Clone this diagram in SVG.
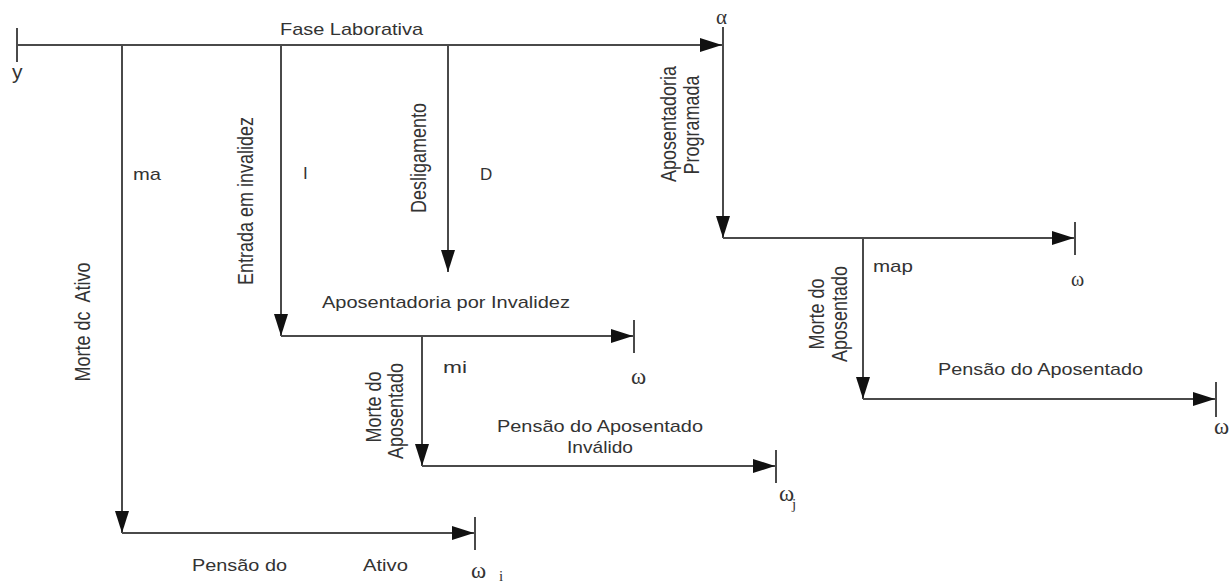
<svg xmlns="http://www.w3.org/2000/svg" width="1232" height="583" viewBox="0 0 1232 583">
<style>
.ln{stroke:#4a4a4a;stroke-width:2;fill:none}
.ar{marker-end:url(#ah)}
.t{font-family:"Liberation Sans",Arial,sans-serif;font-size:17px;fill:#333}
.r{font-family:"Liberation Sans",Arial,sans-serif;font-size:18px;fill:#333;text-anchor:middle;white-space:pre}
.w{font-family:"Liberation Serif","Times New Roman",serif;font-size:23px;fill:#333}
.s{font-family:"Liberation Serif","Times New Roman",serif;font-size:15px;fill:#333}
</style>
<defs>
<marker id="ah" viewBox="0 0 22 14" refX="22" refY="7" markerWidth="22" markerHeight="14" markerUnits="userSpaceOnUse" orient="auto">
<path d="M0,0 L22,7 L0,14 z" fill="#111"/>
</marker>
</defs>
<rect width="1232" height="583" fill="#fff"/>
<g id="connectors">
<path class="ln ar" d="M17,45 H722"/>
<path class="ln" d="M17,28 V62"/>
<path class="ln" d="M723,27 V45"/>
<path class="ln ar" d="M723,45 V238"/>
<path class="ln ar" d="M122,45 V533"/>
<path class="ln ar" d="M281,45 V336"/>
<path class="ln ar" d="M448,45 V272"/>
<path class="ln ar" d="M723,238 H1074"/>
<path class="ln" d="M1075,222 V255"/>
<path class="ln ar" d="M863,238 V399"/>
<path class="ln ar" d="M863,399 H1215"/>
<path class="ln" d="M1216,382 V417"/>
<path class="ln ar" d="M281,336 H633"/>
<path class="ln" d="M634,320 V353"/>
<path class="ln ar" d="M422,336 V466"/>
<path class="ln ar" d="M422,466 H775"/>
<path class="ln" d="M776,450 V483"/>
<path class="ln ar" d="M122,533 H474"/>
<path class="ln" d="M475,517 V550"/>
</g>
<g id="fase-laborativa">
<text class="t" x="280" y="35" textLength="143" lengthAdjust="spacingAndGlyphs">Fase Laborativa</text>
<text class="t" x="12" y="79" style="font-size:21px">y</text>
<text class="w" x="716" y="24" style="font-size:21px">α</text>
</g>
<g id="morte-ativo">
<text class="r" xml:space="preserve" transform="translate(90,322) scale(1.18,1) rotate(-90)">Morte dc  Ativo</text>
<text class="t" x="133" y="180" textLength="28" lengthAdjust="spacingAndGlyphs">ma</text>
</g>
<g id="entrada-invalidez">
<text class="r" transform="translate(253,201) scale(1.18,1) rotate(-90)">Entrada em invalidez</text>
<text class="t" x="303" y="179">I</text>
</g>
<g id="desligamento">
<text class="r" transform="translate(426,158) scale(1.18,1) rotate(-90)">Desligamento</text>
<text class="t" x="480" y="180">D</text>
</g>
<g id="aposentadoria-programada">
<text class="r" transform="translate(676,124) scale(1.18,1) rotate(-90)">Aposentadoria</text>
<text class="r" transform="translate(699,125) scale(1.18,1) rotate(-90)">Programada</text>
<text class="t" x="873" y="272" textLength="40" lengthAdjust="spacingAndGlyphs">map</text>
<text class="w" x="1071" y="286" style="font-size:20px">ω</text>
</g>
<g id="morte-aposentado-prog">
<text class="r" transform="translate(824,314) scale(1.18,1) rotate(-90)">Morte do</text>
<text class="r" transform="translate(847,314) scale(1.18,1) rotate(-90)">Aposentado</text>
</g>
<g id="pensao-aposentado">
<text class="t" x="938" y="375" textLength="205" lengthAdjust="spacingAndGlyphs">Pensão do Aposentado</text>
<text class="w" x="1214" y="434">ω</text>
</g>
<g id="aposentadoria-invalidez">
<text class="t" x="322" y="308" textLength="248" lengthAdjust="spacingAndGlyphs">Aposentadoria por Invalidez</text>
<text class="t" x="443" y="373" textLength="24" lengthAdjust="spacingAndGlyphs">mi</text>
<text class="w" x="631" y="384">ω</text>
</g>
<g id="morte-aposentado-inv">
<text class="r" transform="translate(381,407) scale(1.18,1) rotate(-90)">Morte do</text>
<text class="r" transform="translate(403,411) scale(1.18,1) rotate(-90)">Aposentado</text>
</g>
<g id="pensao-aposentado-invalido">
<text class="t" x="497" y="432" textLength="206" lengthAdjust="spacingAndGlyphs">Pensão do Aposentado</text>
<text class="t" x="567" y="453" textLength="66" lengthAdjust="spacingAndGlyphs">Inválido</text>
<text class="w" x="779" y="501">ω</text>
<text class="s" x="792" y="509">j</text>
</g>
<g id="pensao-ativo">
<text class="t" x="192" y="571" textLength="95" lengthAdjust="spacingAndGlyphs">Pensão do</text>
<text class="t" x="363" y="571" textLength="45" lengthAdjust="spacingAndGlyphs">Ativo</text>
<text class="w" x="471" y="578">ω</text>
<text class="s" x="499" y="581">i</text>
</g>
</svg>
